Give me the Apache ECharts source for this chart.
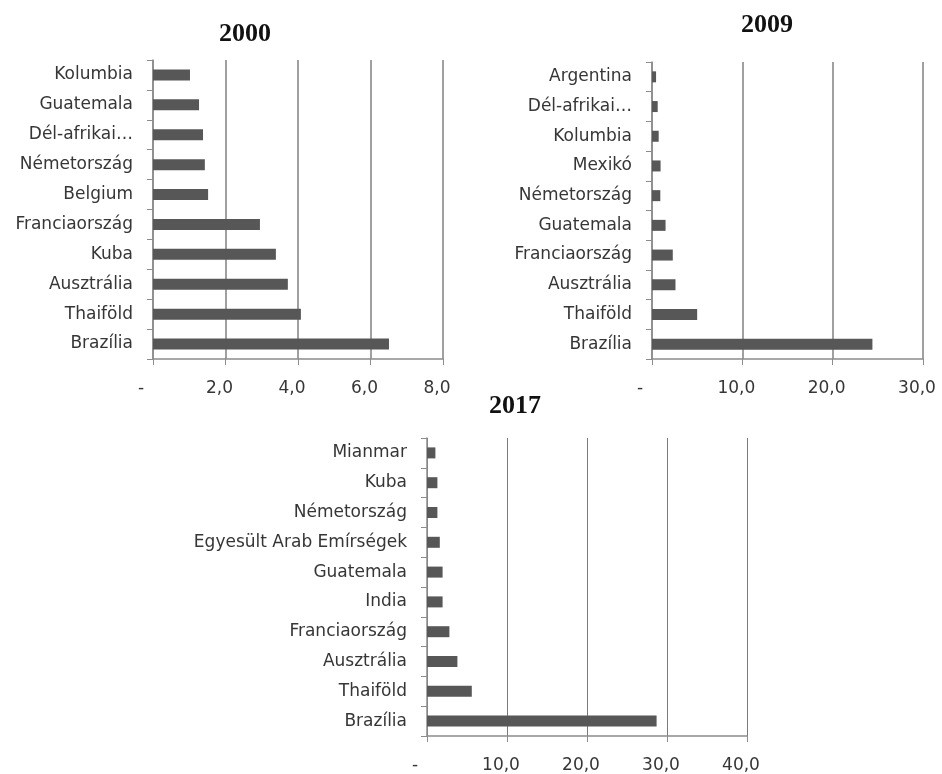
<!DOCTYPE html>
<html>
<head>
<meta charset="utf-8">
<script src="https://cdn.jsdelivr.net/npm/echarts@6/dist/echarts.min.js"></script>
<style>
  html, body { margin: 0; padding: 0; background: #fff; }
  #chart { width: 942px; height: 774px; }
</style>
</head>
<body>
<div id="chart"></div>
<script>
// adatok (felülről lefelé)
const cats2000 = ['Kolumbia', 'Guatemala', 'Dél-afrikai…', 'Németország', 'Belgium', 'Franciaország', 'Kuba', 'Ausztrália', 'Thaiföld', 'Brazília'];
const vals2000 = [1.02, 1.27, 1.38, 1.43, 1.52, 2.95, 3.39, 3.72, 4.08, 6.51];

const cats2009 = ['Argentina', 'Dél-afrikai…', 'Kolumbia', 'Mexikó', 'Németország', 'Guatemala', 'Franciaország', 'Ausztrália', 'Thaiföld', 'Brazília'];
const vals2009 = [0.45, 0.63, 0.74, 0.95, 0.92, 1.5, 2.3, 2.6, 5.0, 24.4];

const cats2017 = ['Mianmar', 'Kuba', 'Németország', 'Egyesült Arab Emírségek', 'Guatemala', 'India', 'Franciaország', 'Ausztrália', 'Thaiföld', 'Brazília'];
const vals2017 = [1.05, 1.3, 1.3, 1.6, 1.95, 1.95, 2.8, 3.8, 5.6, 28.7];

const years = ['2000', '2009', '2017'];
const axisMax = [8, 30, 40];
const axisStep = [2, 10, 10];

const chart = echarts.init(document.getElementById('chart'));

const textColor = '#363636';
const labelFont = 'DejaVu Sans';

// Excel-szerű számformátum: 0 -> "-", egyébként "2,0"
function fmt(v) {
  if (v === 0) return '{z|-}';
  return '{n|' + v.toFixed(1).replace('.', ',') + '}';
}

function xAxisCfg(idx, gridColor, gridWidth) {
  return {
    type: 'value',
    gridIndex: idx,
    min: 0,
    max: axisMax[idx],
    interval: axisStep[idx],
    axisLine: { show: true, lineStyle: { color: '#8c8c8c', width: 1.5 } },
    axisTick: { show: true, length: 6, lineStyle: { color: '#8c8c8c' } },
    splitLine: { show: true, lineStyle: { color: gridColor, width: gridWidth } },
    axisLabel: {
      margin: 21,
      formatter: fmt,
      rich: {
        n: { fontFamily: labelFont, fontSize: 17, color: textColor, padding: [0, 12, 0, 0] },
        z: { fontFamily: labelFont, fontSize: 17, color: textColor, padding: [0, 24, 0, 0] }
      }
    }
  };
}

function yAxisCfg(idx, cats) {
  return {
    type: 'category',
    gridIndex: idx,
    inverse: true,
    data: cats,
    axisLine: { show: true, lineStyle: { color: '#8c8c8c', width: 1.5 } },
    axisTick: { show: true, length: 6, lineStyle: { color: '#8c8c8c' } },
    axisLabel: { margin: 20, fontFamily: labelFont, fontSize: 17, color: textColor }
  };
}

function seriesCfg(idx, vals) {
  return {
    type: 'bar',
    xAxisIndex: idx,
    yAxisIndex: idx,
    data: vals,
    barWidth: 11,
    itemStyle: { color: '#575757' },
    silent: true
  };
}

const option = {
  animation: false,
  backgroundColor: '#fff',
  title: [
    { text: years[0], left: 245, top: 21, textAlign: 'center', padding: 0,
      textStyle: { fontFamily: 'Liberation Serif', fontWeight: 'bold', fontSize: 26, color: '#111' } },
    { text: years[1], left: 767, top: 12, textAlign: 'center', padding: 0,
      textStyle: { fontFamily: 'Liberation Serif', fontWeight: 'bold', fontSize: 26, color: '#111' } },
    { text: years[2], left: 515, top: 393, textAlign: 'center', padding: 0,
      textStyle: { fontFamily: 'Liberation Serif', fontWeight: 'bold', fontSize: 26, color: '#111' } }
  ],
  grid: [
    { left: 153, top: 60, width: 290, height: 299 },
    { left: 652, top: 62, width: 271, height: 297 },
    { left: 427, top: 438, width: 320, height: 298 }
  ],
  xAxis: [
    xAxisCfg(0, '#a0a0a0', 2),
    xAxisCfg(1, '#a0a0a0', 2),
    xAxisCfg(2, '#7a7a7a', 1)
  ],
  yAxis: [
    yAxisCfg(0, cats2000),
    yAxisCfg(1, cats2009),
    yAxisCfg(2, cats2017)
  ],
  series: [
    seriesCfg(0, vals2000),
    seriesCfg(1, vals2009),
    seriesCfg(2, vals2017)
  ]
};

chart.setOption(option);
</script>
</body>
</html>
